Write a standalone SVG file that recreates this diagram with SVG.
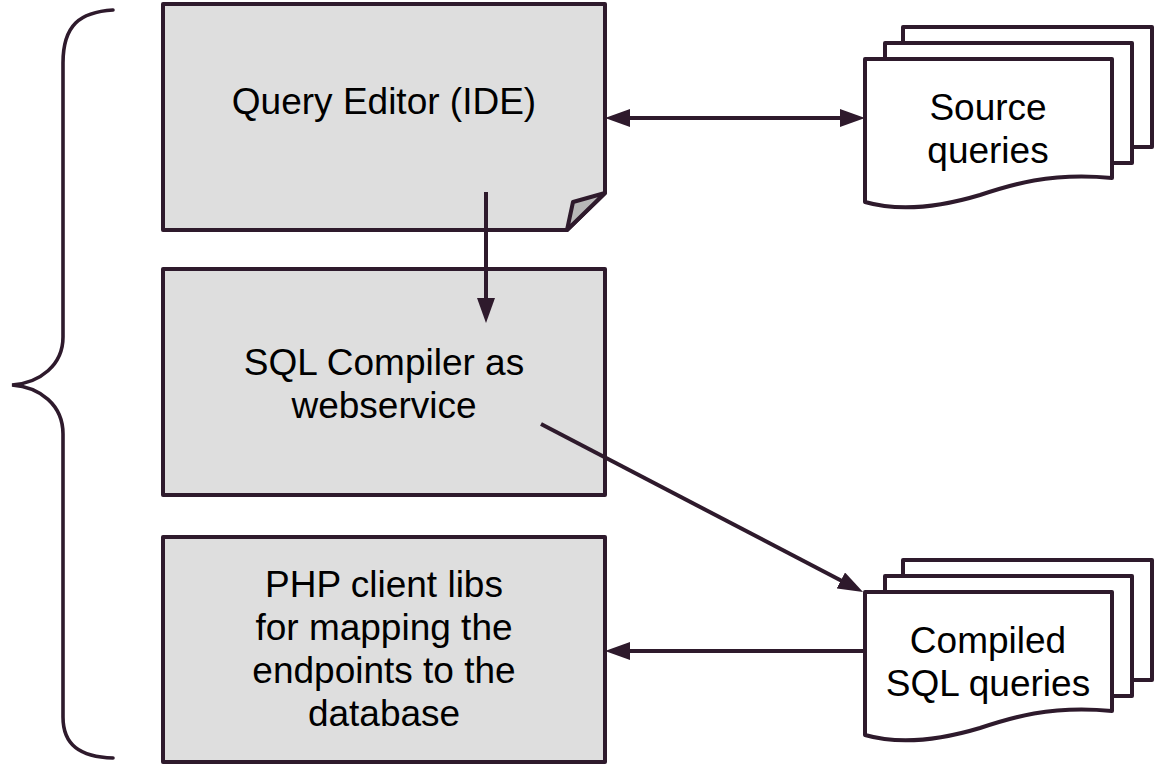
<svg xmlns="http://www.w3.org/2000/svg" width="1163" height="764" viewBox="0 0 1163 764">
<style>
.box{fill:#dedede;stroke:#2e1a2c;stroke-width:4;stroke-linejoin:round}
.flap{fill:#b8b8b8;stroke:#2e1a2c;stroke-width:4;stroke-linejoin:round}
.page{fill:#ffffff;stroke:#2e1a2c;stroke-width:4;stroke-linejoin:round}
.conn{fill:none;stroke:#2e1a2c;stroke-width:4}
.brace{fill:none;stroke:#2e1a2c;stroke-width:3.6;stroke-linecap:round}
.t{font-family:"Liberation Sans",Arial,sans-serif;font-size:37px;fill:#000;text-anchor:middle}
</style>
<defs>
<marker id="ah" viewBox="0 0 25 18" markerWidth="25" markerHeight="18" markerUnits="userSpaceOnUse" refX="5" refY="9" orient="auto-start-reverse">
<path d="M0,0 L25,9 L0,18 Z" fill="#2e1a2c"/>
</marker>
</defs>
<g id="brace">
<path class="brace" d="M113,10 C80,12 63,25 63,63 L63,337 C63,365 40,383 12,385 C40,387 63,405 63,434 L63,717 C63,745 80,757 113,758"/>
</g>
<g id="query-editor">
<path class="box" d="M163,4 H605 V193 L567,230 H163 Z"/>
<path class="flap" d="M605,193 L573,202 L567,230 Z"/>
<text class="t" x="384" y="114">Query Editor (IDE)</text>
</g>
<g id="sql-compiler">
<rect class="box" x="163" y="269" width="442" height="226"/>
<text class="t" x="384" y="375">SQL Compiler as</text>
<text class="t" x="384" y="418">webservice</text>
</g>
<g id="php-client">
<rect class="box" x="163" y="537" width="442" height="225"/>
<text class="t" x="384" y="597">PHP client libs</text>
<text class="t" x="384" y="640">for mapping the</text>
<text class="t" x="384" y="683">endpoints to the</text>
<text class="t" x="384" y="726">database</text>
</g>
<g id="source-queries">
<rect class="page" x="903" y="27" width="249" height="120"/>
<rect class="page" x="885" y="43" width="247" height="120"/>
<path class="page" d="M865,59 H1112 V178 C1050,172 1010,185 980,195 C940,207 900,212 865,202 Z"/>
<text class="t" x="988" y="120">Source</text>
<text class="t" x="988" y="163">queries</text>
</g>
<g id="compiled-queries">
<rect class="page" x="903" y="560" width="249" height="120"/>
<rect class="page" x="885" y="576" width="247" height="120"/>
<path class="page" d="M865,592 H1112 V711 C1050,705 1010,718 980,728 C940,740 900,745 865,735 Z"/>
<text class="t" x="988" y="653">Compiled</text>
<text class="t" x="988" y="696">SQL queries</text>
</g>
<g id="connectors">
<line class="conn" x1="625" y1="118" x2="845" y2="118" marker-start="url(#ah)" marker-end="url(#ah)"/>
<line class="conn" x1="486" y1="192" x2="486" y2="303" marker-end="url(#ah)"/>
<line class="conn" x1="541" y1="424" x2="845.3" y2="582.75" marker-end="url(#ah)"/>
<line class="conn" x1="865" y1="651" x2="625" y2="651" marker-end="url(#ah)"/>
</g>
</svg>
